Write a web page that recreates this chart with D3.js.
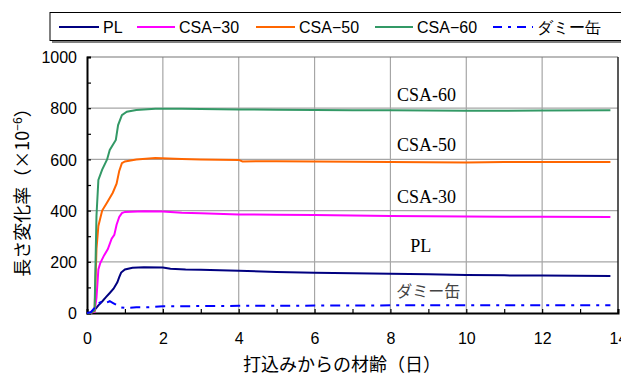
<!DOCTYPE html>
<html>
<head>
<meta charset="utf-8">
<script src="https://cdn.jsdelivr.net/npm/d3@7"></script>
<style>
  body { margin: 0; background: #fff; }
  svg { display: block; }
</style>
</head>
<body>
<div id="chart"></div>
<script>
// days since casting, length change (x10^-6)
const plData = [[0,0],[0.1,2],[0.2,12],[0.3,30],[0.4,45],[0.5,62],[0.6,78],[0.7,95],[0.8,120],[0.85,140],[0.9,158],[1.0,170],[1.2,177],[1.5,179],[2.0,178],[2.2,173],[2.6,170],[3.0,169],[4.0,165],[5.0,160],[6.0,157],[7.0,155],[8.0,153],[9.0,151],[10.0,148],[11.0,147],[12.0,146],[13.8,145]];
const csa30Data = [[0,0],[0.1,1],[0.2,5],[0.25,60],[0.3,170],[0.35,195],[0.45,225],[0.55,250],[0.65,290],[0.72,305],[0.78,345],[0.85,375],[0.92,390],[1.0,395],[1.5,397],[2.0,396],[2.5,392],[3.0,390],[4.0,385],[5.0,384],[6.0,383],[7.0,381],[8.0,379],[9.0,378],[10.0,377],[11.0,376],[12.0,376],[13.8,375]];
const csa50Data = [[0,0],[0.1,1],[0.2,8],[0.25,250],[0.3,340],[0.4,400],[0.53,432],[0.68,470],[0.78,505],[0.85,555],[0.92,585],[1.0,592],[1.3,600],[1.8,605],[2.5,602],[3.0,600],[4.0,598],[4.1,592],[5.0,593],[6.0,592],[7.0,591],[8.0,590],[9.0,589],[10.0,588],[11.0,590],[12.0,590],[13.8,590]];
const csa60Data = [[0,0],[0.1,1],[0.2,10],[0.25,380],[0.3,520],[0.4,560],[0.53,600],[0.6,637],[0.76,676],[0.82,734],[0.92,773],[1.05,786],[1.3,793],[1.8,798],[2.5,798],[3.0,797],[4.0,795],[5.0,794],[6.0,793],[7.0,792],[8.0,792],[9.0,791],[10.0,790],[11.0,790],[12.0,791],[13.8,792]];
const dummyData = [[0,0],[0.1,3],[0.2,20],[0.3,38],[0.4,45],[0.5,40],[0.6,46],[0.7,38],[0.8,30],[0.9,22],[1.0,20],[1.3,22],[1.6,22],[2.0,26],[3.0,27],[4.0,28],[5.0,28],[6.0,29],[7.0,29],[8.0,30],[9.0,30],[10.0,30],[11.0,30],[12.0,30],[13.8,30]];

const seriesNames = ["PL", "CSA\u221230", "CSA\u221250", "CSA\u221260", "ダミー缶"];
const seriesColors = ["#000080", "#ff00ff", "#ff6600", "#339966", "#0000ff"];
const seriesData = [plData, csa30Data, csa50Data, csa60Data, dummyData];

// in-plot labels: [text, day, value]
const curveLabels = [["CSA-60", 8.95, 830], ["CSA-50", 8.95, 633], ["CSA-30", 8.95, 430], ["PL", 8.8, 238], ["ダミー缶", 9.0, 62]];

const xTicks = [0, 2, 4, 6, 8, 10, 12, 14];
const yTicks = [0, 200, 400, 600, 800, 1000];

const W = 621, H = 378;
const plot = { left: 87, right: 618, top: 57, bottom: 313 };

const svg = d3.select("#chart").append("svg")
    .attr("width", W)
    .attr("height", H);

const x = d3.scaleLinear().domain([0, 14]).range([plot.left, plot.right]);
const y = d3.scaleLinear().domain([0, 1000]).range([plot.bottom, plot.top]);

// grid
svg.append("g")
    .selectAll("line.vg")
    .data(xTicks.slice(1, -1))
    .join("line")
    .attr("x1", d => x(d)).attr("x2", d => x(d))
    .attr("y1", plot.top).attr("y2", plot.bottom)
    .attr("stroke", "#a6a6a6").attr("stroke-width", 1.2);

svg.append("g")
    .selectAll("line.hg")
    .data(yTicks.slice(1, -1))
    .join("line")
    .attr("x1", plot.left).attr("x2", plot.right)
    .attr("y1", d => y(d)).attr("y2", d => y(d))
    .attr("stroke", "#a6a6a6").attr("stroke-width", 1.2);

// frame: top grey, right dark
svg.append("line").attr("x1", plot.left).attr("x2", plot.right)
    .attr("y1", plot.top).attr("y2", plot.top)
    .attr("stroke", "#777").attr("stroke-width", 1.2);
svg.append("line").attr("x1", plot.right).attr("x2", plot.right)
    .attr("y1", plot.top).attr("y2", plot.bottom)
    .attr("stroke", "#222").attr("stroke-width", 1.5);

// axes
const xAxis = d3.axisBottom(x)
    .tickValues(d3.range(0, 15, 1))
    .tickSize(-4)
    .tickFormat(d => d % 2 === 0 ? d : "");
const yAxis = d3.axisLeft(y)
    .tickValues(d3.range(0, 1001, 100))
    .tickSize(-4)
    .tickFormat(d => d % 200 === 0 ? d : "");

const gx = svg.append("g")
    .attr("transform", "translate(0," + plot.bottom + ")")
    .call(xAxis);
const gy = svg.append("g")
    .attr("transform", "translate(" + plot.left + ",0)")
    .call(yAxis);

[gx, gy].forEach(g => {
    g.select(".domain").attr("stroke", "#000").attr("stroke-width", 2);
    g.selectAll(".tick line").attr("stroke", "#000").attr("stroke-width", 1.2);
    g.selectAll("text")
        .attr("font-family", "'Liberation Sans', Arial, sans-serif")
        .attr("font-size", 16)
        .attr("fill", "#000");
});
gx.selectAll("text").attr("dy", null).attr("y", 31);
gy.selectAll("text").attr("x", -10).attr("dy", "0.35em");

// curves
const line = d3.line()
    .x(d => x(d[0]))
    .y(d => y(d[1]));

svg.append("g")
    .selectAll("path")
    .data(seriesData)
    .join("path")
    .attr("d", line)
    .attr("fill", "none")
    .attr("stroke", (d, i) => seriesColors[i])
    .attr("stroke-width", 2)
    .attr("stroke-dasharray", (d, i) => i === 4 ? "10,6,3,6" : null);

// in-plot labels
svg.append("g")
    .selectAll("text")
    .data(curveLabels)
    .join("text")
    .attr("x", d => x(d[1]))
    .attr("y", d => y(d[2]))
    .attr("text-anchor", "middle")
    .attr("font-family", d => d[0] === "ダミー缶" ? "'Noto Sans CJK JP', sans-serif" : "'Liberation Serif', 'Times New Roman', serif")
    .attr("font-size", d => d[0] === "ダミー缶" ? 16 : 18)
    .attr("fill", d => d[0] === "ダミー缶" ? "#444" : "#000")
    .text(d => d[0]);

// axis titles
svg.append("text")
    .attr("x", 342).attr("y", 371)
    .attr("text-anchor", "middle")
    .attr("font-family", "'Noto Sans CJK JP', sans-serif")
    .attr("font-size", 18)
    .text("打込みからの材齢（日）");

const yt = svg.append("text")
    .attr("transform", "translate(29,188) rotate(-90)")
    .attr("text-anchor", "middle")
    .attr("font-family", "'Noto Sans CJK JP', sans-serif")
    .attr("font-size", 18);
yt.append("tspan").text("長さ変化率（×10");
yt.append("tspan").attr("dy", -7).attr("font-size", 12).text("−6");
yt.append("tspan").attr("dy", 7).text("）");

// legend
const lg = svg.append("g");
lg.append("rect")
    .attr("x", 52).attr("y", 15).attr("width", 580).attr("height", 28)
    .attr("fill", "#808080");
lg.append("rect")
    .attr("x", 50).attr("y", 12.5).attr("width", 580).attr("height", 28)
    .attr("fill", "#fff").attr("stroke", "#000").attr("stroke-width", 1);

const legendX = [59, 137, 256, 375, 493];
const legendW = [40, 38, 39, 38, 40];
const item = lg.selectAll("g.item")
    .data(seriesNames)
    .join("g")
    .attr("transform", (d, i) => "translate(" + legendX[i] + ",27)");
item.append("line")
    .attr("x1", 0).attr("x2", (d, i) => legendW[i])
    .attr("stroke", (d, i) => seriesColors[i])
    .attr("stroke-width", 2)
    .attr("stroke-dasharray", (d, i) => i === 4 ? "9,6,3,6" : null);
item.append("text")
    .attr("x", (d, i) => legendW[i] + 4)
    .attr("dy", "0.35em")
    .attr("font-family", "'Liberation Sans', Arial, sans-serif")
    .attr("font-size", 16)
    .text(d => d);
</script>
</body>
</html>
